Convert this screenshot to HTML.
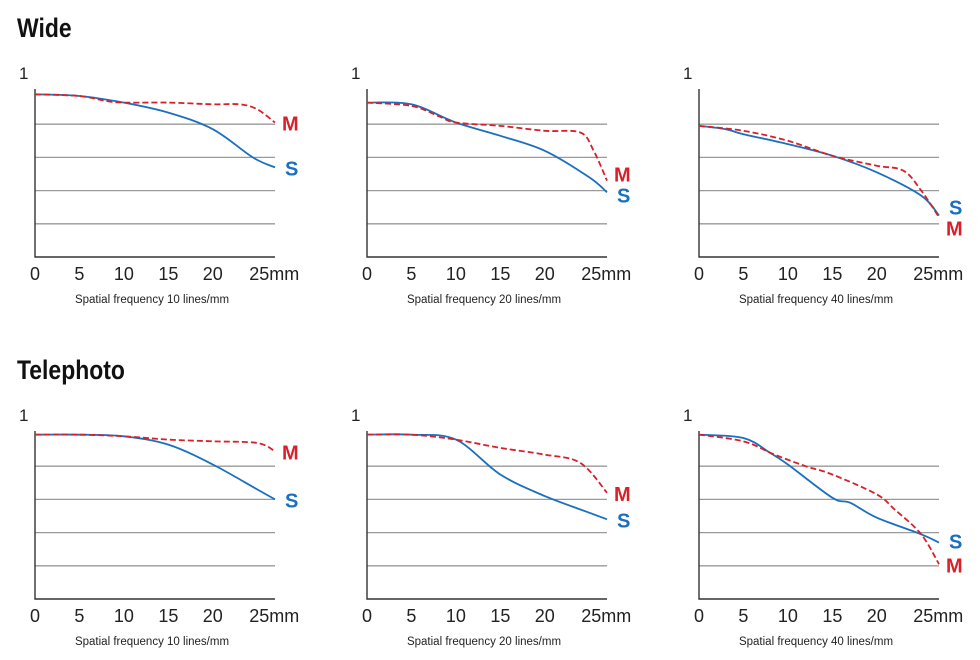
<!DOCTYPE html>
<html><head><meta charset="utf-8">
<style>
body{margin:0;background:#fff;width:980px;height:660px;overflow:hidden;font-family:"Liberation Sans",sans-serif}
svg{position:absolute;left:0;top:0}
</style></head>
<body>
<svg id="c" width="980" height="660">
<text x="17" y="37" font-family="'Liberation Sans Narrow','Liberation Sans',sans-serif" font-weight="bold" font-size="27" fill="#111" transform="translate(17,0) scale(0.85,1) translate(-17,0)">Wide</text>
<text x="17" y="379" font-family="'Liberation Sans Narrow','Liberation Sans',sans-serif" font-weight="bold" font-size="27" fill="#111" transform="translate(17,0) scale(0.85,1) translate(-17,0)">Telephoto</text>
</svg>
<script>
const xTicks=[0,5,10,15,20,25];
const xTickLabels=["0","5","10","15","20","25mm"];
const gridVals=[0.2,0.4,0.6,0.8];
const freqs=[10,20,40,10,20,40];
const titles=["wide","wide","wide","tele","tele","tele"];
const w10SX=[0,5,10,15,20,24.5,27], w10SY=[0.98,0.97,0.93,0.87,0.77,0.6,0.54];
const w10MX=[0,5,8,10,15,20,23,25,27], w10MY=[0.98,0.97,0.94,0.93,0.93,0.92,0.92,0.89,0.81];
const w20SX=[0,5,10,15,20,25,27], w20SY=[0.93,0.92,0.81,0.73,0.64,0.48,0.39];
const w20MX=[0,5,8,10,15,20,24,25.5,27], w20MY=[0.93,0.91,0.85,0.81,0.79,0.76,0.75,0.64,0.46];
const w40SX=[0,3,5,10,15,20,25,27], w40SY=[0.79,0.77,0.74,0.68,0.61,0.51,0.37,0.25];
const w40MX=[0,5,10,15,20,23,25,27], w40MY=[0.79,0.76,0.70,0.61,0.55,0.52,0.40,0.24];
const t10SX=[0,5,10,15,20,25,27], t10SY=[0.99,0.99,0.98,0.93,0.81,0.66,0.6];
const t10MX=[0,5,10,15,20,25,27], t10MY=[0.99,0.99,0.98,0.96,0.95,0.94,0.89];
const t20SX=[0,5,10,15,20,25,27], t20SY=[0.99,0.99,0.96,0.75,0.62,0.52,0.48];
const t20MX=[0,5,10,15,20,24,27], t20MY=[0.99,0.99,0.96,0.91,0.87,0.82,0.64];
const t40SX=[0,5,8,10,15,17,20,25,27], t40SY=[0.99,0.97,0.88,0.81,0.61,0.58,0.49,0.39,0.34];
const t40MX=[0,5,8.5,12,15,20,22,25,27], t40MY=[0.99,0.95,0.87,0.80,0.75,0.63,0.54,0.39,0.21];
const series=[[w10SX,w10SY,w10MX,w10MY],[w20SX,w20SY,w20MX,w20MY],[w40SX,w40SY,w40MX,w40MY],
[t10SX,t10SY,t10MX,t10MY],[t20SX,t20SY,t20MX,t20MY],[t40SX,t40SY,t40MX,t40MY]];
const svg=document.getElementById('c');
const NS="http://www.w3.org/2000/svg";
function mk(tag,at,txt){const e=document.createElementNS(NS,tag);for(const k in at)e.setAttribute(k,at[k]);if(txt!=null)e.textContent=txt;svg.appendChild(e);return e;}
function smooth(pts){let d="M"+pts[0][0]+","+pts[0][1];for(let i=0;i<pts.length-1;i++){const p0=pts[i-1]||pts[i],p1=pts[i],p2=pts[i+1],p3=pts[i+2]||p2;
const c1x=p1[0]+(p2[0]-p0[0])/6,c1y=p1[1]+(p2[1]-p0[1])/6,c2x=p2[0]-(p3[0]-p1[0])/6,c2y=p2[1]-(p3[1]-p1[1])/6;
d+=" C"+c1x.toFixed(1)+","+c1y.toFixed(1)+" "+c2x.toFixed(1)+","+c2y.toFixed(1)+" "+p2[0].toFixed(1)+","+p2[1].toFixed(1);}return d;}
const lefts=[35,367,699];
for(let c=0;c<6;c++){
 const L=lefts[c%3], B=c<3?257:599, W=240, H=166;
 const xs=v=>L+v*W/27, ys=v=>B-v*H;
 const g=(n)=>n;
 for(const gv of gridVals){const l=mk('line',{x1:L,x2:L+W,y1:ys(gv),y2:ys(gv),stroke:'#9a9a9a','stroke-width':1.3});
  
  }
 const ax=mk('path',{d:`M${L},${ys(1)-2} V${B} H${L+W}`,fill:'none',stroke:'#333','stroke-width':1.4});
 
 
 const one=mk('text',{x:L-16,y:B-H-12,'font-size':17,fill:'#222'},"1");
 
 
 xTicks.forEach((t,i)=>{const tx=mk('text',{x:i==5?xs(t)-8:xs(t),y:B+23,'font-size':18,fill:'#222','text-anchor':i==5?'start':'middle'},xTickLabels[i]);
  
  });
 const cap=mk('text',{x:L+W/2-3,y:B+46,'font-size':11.5,fill:'#222','text-anchor':'middle'},"Spatial frequency "+freqs[c]+" lines/mm");
 
 
 const [sx,sy,mx,my]=series[c];
 const sp=mk('path',{d:smooth(sx.map((v,i)=>[xs(v),ys(sy[i])])),fill:'none',stroke:'#1a6fbf','stroke-width':1.8});
 
 
 const mp=mk('path',{d:smooth(mx.map((v,i)=>[xs(v),ys(my[i])])),fill:'none',stroke:'#d8202a','stroke-width':1.8,'stroke-dasharray':'6,3'});
 
 
 let sY=ys(sy[sy.length-1]), mY=ys(my[my.length-1]);
 if(Math.abs(sY-mY)<20){ if(sY<mY){sY=mY-21;} else {mY=sY-21;} }
 if(c==1){mY=ys(my[my.length-1])-6; sY=ys(sy[sy.length-1])+2; if(sY-mY<21) mY=sY-21;}
 if(c==2){sY=ys(sy[sy.length-1])-9; mY=sY+21;}
 if(c==5){sY=ys(sy[sy.length-1])-2; mY=sY+24;}
 const ml=mk('text',{x:L+W+7,y:mY+8,'font-size':20,'font-weight':'bold',fill:'#d8202a'},"M");
 
 
 const sl=mk('text',{x:L+W+10,y:sY+8,'font-size':20,'font-weight':'bold',fill:'#1a6fbf'},"S");
 
 
}
</script>
</body></html>
